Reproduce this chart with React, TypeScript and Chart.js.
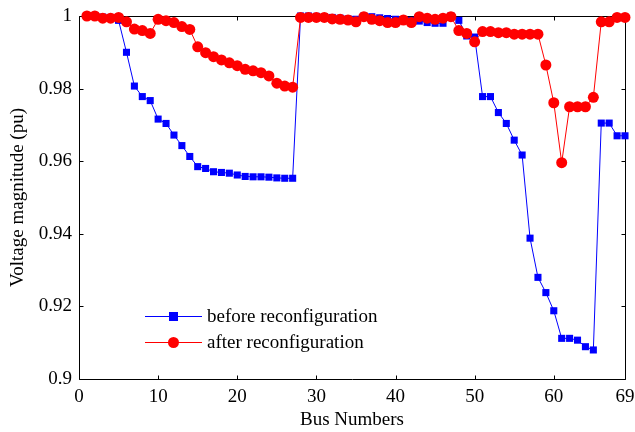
import React, { useEffect, useRef } from "react";
import { Chart, registerables } from "chart.js";
Chart.register(...registerables);

const busNumbers = [
  1, 2, 3, 4, 5, 6, 7, 8, 9, 10, 11, 12, 13, 14, 15, 16, 17, 18, 19, 20, 21, 22, 23,
  24, 25, 26, 27, 28, 29, 30, 31, 32, 33, 34, 35, 36, 37, 38, 39, 40, 41, 42, 43, 44,
  45, 46, 47, 48, 49, 50, 51, 52, 53, 54, 55, 56, 57, 58, 59, 60, 61, 62, 63, 64, 65,
  66, 67, 68, 69,
];

const beforeValues = [
  1.0, 1.0, 0.9997, 0.9996, 0.9988, 0.99, 0.9807, 0.9778, 0.9767, 0.9716, 0.9704,
  0.9672, 0.9643, 0.9613, 0.9585, 0.958, 0.9571, 0.9569, 0.9567, 0.9562, 0.9558,
  0.9557, 0.9557, 0.9556, 0.9554, 0.9553, 0.9553, 1.0, 1.0, 0.9999, 0.9998, 0.9996,
  0.9994, 0.9992, 0.9991, 1.0, 0.9998, 0.9995, 0.9993, 0.9991, 0.999, 0.9988, 0.9986,
  0.9982, 0.998, 0.998, 1.0, 0.9988, 0.9945, 0.9942, 0.9778, 0.9778, 0.9734, 0.9704,
  0.9658, 0.9617, 0.9388, 0.928, 0.9238, 0.9188, 0.9112, 0.9112, 0.9107, 0.9089,
  0.908, 0.9705, 0.9705, 0.967, 0.967,
];

const afterValues = [
  1.0, 1.0, 0.9994, 0.9994, 0.9996, 0.9984, 0.9964, 0.996, 0.9952, 0.9991, 0.9987,
  0.9982, 0.9971, 0.9963, 0.9915, 0.9899, 0.9888, 0.9879, 0.9871, 0.9863, 0.9853,
  0.9849, 0.9844, 0.9835, 0.9815, 0.9807, 0.9804, 0.9996, 0.9996, 0.9996, 0.9996,
  0.9992, 0.9991, 0.9989, 0.9984, 0.9998, 0.9991, 0.9987, 0.9982, 0.9982, 0.9989,
  0.9982, 0.9998, 0.9994, 0.9991, 0.9994, 0.9998, 0.996, 0.9952, 0.9929, 0.9957,
  0.9957, 0.9954, 0.9954, 0.995, 0.995, 0.995, 0.995, 0.9865, 0.9761, 0.9596, 0.975,
  0.975, 0.975, 0.9776, 0.9984, 0.9984, 0.9996, 0.9996,
];

const xTickValues = [0, 10, 20, 30, 40, 50, 60, 69];
const yTickValues = [0.9, 0.92, 0.94, 0.96, 0.98, 1];
const seriesLabels = ["before reconfiguration", "after reconfiguration"];
const seriesColors = ["#0000ff", "#ff0000"];
const xTitle = "Bus Numbers";
const yTitle = "Voltage magnitude (pu)";

const FONT = '"Liberation Serif", "Times New Roman", serif';

export default function App() {
  const ref = useRef<HTMLCanvasElement>(null);

  useEffect(() => {
    document.body.style.margin = "0";
    const canvas = ref.current!;

    const framePlugin = {
      id: "frame",
      beforeDatasetsDraw(chart: any) {
        const { ctx, chartArea: a, scales } = chart;
        ctx.save();
        ctx.strokeStyle = "#000";
        ctx.lineWidth = 1;
        const L = Math.round(a.left) + 0.5;
        const R = Math.round(a.right) + 0.5;
        const T = Math.round(a.top) + 0.5;
        const B = Math.round(a.bottom) + 0.5;
        ctx.beginPath();
        ctx.rect(L, T, R - L, B - T);
        const tl = 4;
        for (const v of xTickValues) {
          const x = Math.round(scales.x.getPixelForValue(v)) + 0.5;
          ctx.moveTo(x, B);
          ctx.lineTo(x, B - tl);
          ctx.moveTo(x, T);
          ctx.lineTo(x, T + tl);
        }
        for (const v of yTickValues) {
          const y = Math.round(scales.y.getPixelForValue(v)) + 0.5;
          ctx.moveTo(L, y);
          ctx.lineTo(L + tl, y);
          ctx.moveTo(R, y);
          ctx.lineTo(R - tl, y);
        }
        ctx.stroke();
        ctx.restore();
      },
    };

    const legendPlugin = {
      id: "insideLegend",
      afterDatasetsDraw(chart: any) {
        const { ctx, chartArea: a } = chart;
        ctx.save();
        const x0 = a.left + 66;
        const x1 = a.left + 123;
        const rows = [a.top + 300, a.top + 326];
        seriesLabels.forEach((label, i) => {
          const y = rows[i];
          ctx.strokeStyle = seriesColors[i];
          ctx.lineWidth = 1;
          ctx.beginPath();
          ctx.moveTo(x0, y + 0.5);
          ctx.lineTo(x1, y + 0.5);
          ctx.stroke();
          ctx.fillStyle = seriesColors[i];
          const cx = (x0 + x1) / 2;
          if (i === 0) {
            ctx.fillRect(cx - 4.5, y - 4, 9, 9);
          } else {
            ctx.beginPath();
            ctx.arc(cx, y + 0.5, 5.5, 0, Math.PI * 2);
            ctx.fill();
          }
          ctx.fillStyle = "#000";
          ctx.font = `19px ${FONT}`;
          ctx.textBaseline = "middle";
          ctx.textAlign = "left";
          ctx.fillText(label, x1 + 5, y + 1);
        });
        ctx.restore();
      },
    };

    const chart = new Chart(canvas, {
      type: "line",
      data: {
        datasets: [
          {
            label: seriesLabels[0],
            data: busNumbers.map((b, i) => ({ x: b, y: beforeValues[i] })),
            borderColor: seriesColors[0],
            backgroundColor: seriesColors[0],
            borderWidth: 1,
            pointStyle: "rect",
            pointRadius: 5,
            pointBorderWidth: 0,
            pointBackgroundColor: seriesColors[0],
            clip: false,
            order: 1,
          },
          {
            label: seriesLabels[1],
            data: busNumbers.map((b, i) => ({ x: b, y: afterValues[i] })),
            borderColor: seriesColors[1],
            backgroundColor: seriesColors[1],
            borderWidth: 1,
            pointStyle: "circle",
            pointRadius: 5.5,
            pointBorderWidth: 0,
            pointBackgroundColor: seriesColors[1],
            clip: false,
            order: 0,
          },
        ],
      },
      options: {
        animation: false,
        responsive: false,
        devicePixelRatio: 1,
        layout: { padding: { top: 16, right: 10, left: 0, bottom: 0 } },
        plugins: {
          legend: { display: false },
          tooltip: { enabled: false },
        },
        scales: {
          x: {
            type: "linear",
            min: 0,
            max: 69,
            afterBuildTicks: (s: any) => {
              s.ticks = xTickValues.map((v) => ({ value: v }));
            },
            afterFit: (s: any) => {
              s.height = 53;
              s.paddingLeft = 0;
              s.paddingRight = 0;
            },
            grid: { display: false, drawTicks: false },
            border: { display: false },
            ticks: {
              color: "#000",
              font: { family: FONT, size: 19 },
              padding: 7,
              maxRotation: 0,
              autoSkip: false,
              callback: (v: any) => String(v),
            },
            title: {
              display: true,
              text: xTitle,
              color: "#000",
              font: { family: FONT, size: 19 },
              padding: { top: 0, bottom: 1 },
            },
          },
          y: {
            type: "linear",
            min: 0.9,
            max: 1,
            afterBuildTicks: (s: any) => {
              s.ticks = yTickValues.map((v) => ({ value: v }));
            },
            afterFit: (s: any) => {
              s.width = 79;
              s.paddingTop = 0;
              s.paddingBottom = 0;
            },
            grid: { display: false, drawTicks: false },
            border: { display: false },
            ticks: {
              color: "#000",
              font: { family: FONT, size: 19 },
              padding: 7,
              callback: (v: any) => String(Number(Number(v).toFixed(2))),
            },
            title: {
              display: true,
              text: yTitle,
              color: "#000",
              font: { family: FONT, size: 19 },
              padding: { top: 7, bottom: 0 },
            },
          },
        },
      },
      plugins: [framePlugin, legendPlugin],
    });

    return () => chart.destroy();
  }, []);

  return (
    <div style={{ width: 635, height: 432, background: "#fff" }}>
      <canvas ref={ref} width={635} height={432} style={{ display: "block" }} />
    </div>
  );
}
